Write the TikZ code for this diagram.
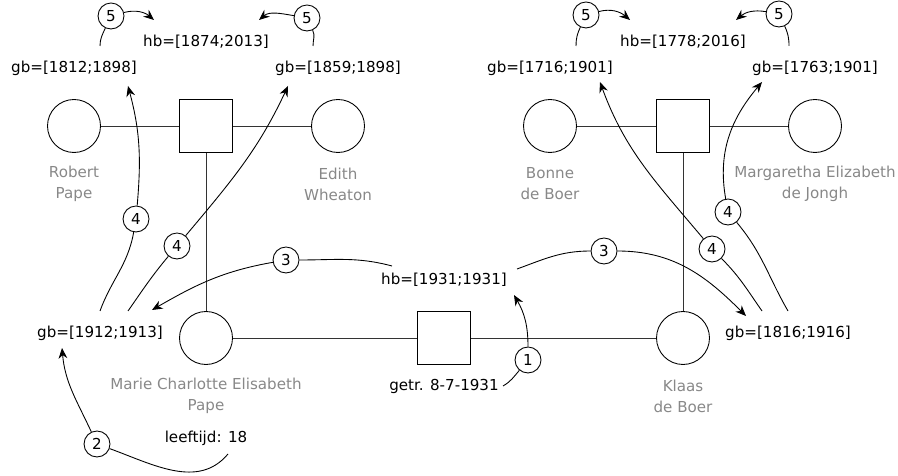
\documentclass[tikz,border=0pt]{standalone}
\usepackage{fontspec}
\setmainfont{DejaVu Sans}
\usetikzlibrary{arrows.meta}
\definecolor{naamgrijs}{RGB}{136,136,136}
\definecolor{lijn}{RGB}{51,51,51}
\tikzstyle{persoon} = [draw, circle, minimum size=1.06cm, inner sep=0pt]
\tikzstyle{huwelijk} = [draw, rectangle, minimum size=1.06cm, inner sep=0pt]
\tikzstyle{naam} = [text=naamgrijs, align=center]
\tikzstyle{stap} = [draw, circle, fill=white, minimum size=0.52cm, inner sep=0pt]
\tikzstyle{pijl} = [-{Stealth[length=6pt,width=5pt]}]

\begin{document}
\begin{tikzpicture}[x=0.02cm, y=0.02cm, line width=0.5pt, font=\fontsize{8.6}{11.9}\selectfont]
	\useasboundingbox (0,0) rectangle (898,476);
	% ouders Pape
	\node[persoon] (robert) at (74,350) {};
	\node[huwelijk] (huwPape) at (206,350) {};
	\node[persoon] (edith) at (338,350) {};
	\node[naam] at (74,292) {Robert\\Pape};
	\node[naam] at (338,292) {Edith\\Wheaton};
	\node (gbRobert) at (74,408) {gb=[1812;1898]};
	\node (gbEdith) at (338,408) {gb=[1859;1898]};
	\node (hbPape) at (206,434) {hb=[1874;2013]};
	\node[stap] (s5a) at (111,460) {5};
	\node[stap] (s5b) at (307,458) {5};
	% ouders de Boer
	\node[persoon] (bonne) at (550,350) {};
	\node[huwelijk] (huwBoer) at (683,350) {};
	\node[persoon] (margaretha) at (815,350) {};
	\node[naam] at (550,292) {Bonne\\de Boer};
	\node[naam] at (815,292) {Margaretha Elizabeth\\de Jongh};
	\node (gbBonne) at (550,408) {gb=[1716;1901]};
	\node (gbMargaretha) at (815,408) {gb=[1763;1901]};
	\node (hbBoer) at (683,434) {hb=[1778;2016]};
	\node[stap] (s5c) at (586,461) {5};
	\node[stap] (s5d) at (779,462) {5};
	% bruidspaar
	\node[persoon] (marie) at (206,138) {};
	\node[huwelijk] (huwelijk) at (444,138) {};
	\node[persoon] (klaas) at (683,138) {};
	\node[naam] at (206,80) {Marie Charlotte Elisabeth\\Pape};
	\node[naam] at (683,80) {Klaas\\de Boer};
	\node (gbMarie) at (100,143) {gb=[1912;1913]};
	\node (gbKlaas) at (788,143) {gb=[1816;1916]};
	\node (hbHuwelijk) at (444,196) {hb=[1931;1931]};
	\node (getr) at (444,90) {getr. 8-7-1931};
	\node (leeftijd) at (206,38) {leeftijd: 18};
	\node[stap] (s1) at (528,116) {1};
	\node[stap] (s2) at (97,32) {2};
	\node[stap] (s3a) at (286,216) {3};
	\node[stap] (s3b) at (604,225) {3};
	\node[stap] (s4a) at (136,257) {4};
	\node[stap] (s4b) at (177,230) {4};
	\node[stap] (s4c) at (712,227) {4};
	\node[stap] (s4d) at (728,264) {4};

	\draw[lijn] (robert) -- (huwPape) -- (edith);
	\draw[lijn] (huwPape) -- (marie);
	\draw[lijn] (bonne) -- (huwBoer) -- (margaretha);
	\draw[lijn] (huwBoer) -- (klaas);
	\draw[lijn] (marie) -- (huwelijk) -- (klaas);

	\draw ([shift={(59,0)}]getr.center) to[out=30,in=-130] (s1);
	\draw[pijl] (s1) to[out=90,in=-60] ([shift={(70,-15)}]hbHuwelijk.center);
	\draw ([shift={(22,-16)}]leeftijd.center) to[out=-130,in=-20] (s2);
	\draw[pijl] (s2) to[out=115,in=-85] ([shift={(-38,-15)}]gbMarie.center);
	\draw ([shift={(-52,14)}]hbHuwelijk.center) to[out=165,in=0] (s3a);
	\draw[pijl] (s3a) to[out=190,in=30] ([shift={(52,23)}]gbMarie.center);
	\draw ([shift={(73,11)}]hbHuwelijk.center) to[out=20,in=180] (s3b);
	\draw[pijl] (s3b) to[out=0,in=135] ([shift={(-42,17)}]gbKlaas.center);
	\draw ([shift={(0,22)}]gbMarie.center) to[out=70,in=-100] (s4a);
	\draw[pijl] (s4a) to[out=85,in=-75] ([shift={(54,-18)}]gbRobert.center);
	\draw ([shift={(28,22)}]gbMarie.center) to[out=55,in=-130] (s4b);
	\draw[pijl] (s4b) to[out=50,in=-115] ([shift={(-50,-18)}]gbEdith.center);
	\draw ([shift={(-26,22)}]gbKlaas.center) to[out=125,in=-45] (s4c);
	\draw[pijl] (s4c) to[out=130,in=-70] ([shift={(50,-14)}]gbBonne.center);
	\draw ([shift={(0,22)}]gbKlaas.center) to[out=120,in=-50] (s4d);
	\draw[pijl] (s4d) to[out=100,in=-130] ([shift={(-53,-14)}]gbMargaretha.center);
	\draw ([shift={(26,22)}]gbRobert.center) to[out=90,in=-115] (s5a);
	\draw[pijl] (s5a) to[out=15,in=140] ([shift={(-52,22)}]hbPape.center);
	\draw ([shift={(-25,22)}]gbEdith.center) to[out=90,in=-65] (s5b);
	\draw[pijl] (s5b) to[out=170,in=40] ([shift={(53,22)}]hbPape.center);
	\draw ([shift={(26,22)}]gbBonne.center) to[out=90,in=-115] (s5c);
	\draw[pijl] (s5c) to[out=15,in=140] ([shift={(-53,22)}]hbBoer.center);
	\draw ([shift={(-26,22)}]gbMargaretha.center) to[out=90,in=-65] (s5d);
	\draw[pijl] (s5d) to[out=170,in=40] ([shift={(53,22)}]hbBoer.center);
\end{tikzpicture}
\end{document}
